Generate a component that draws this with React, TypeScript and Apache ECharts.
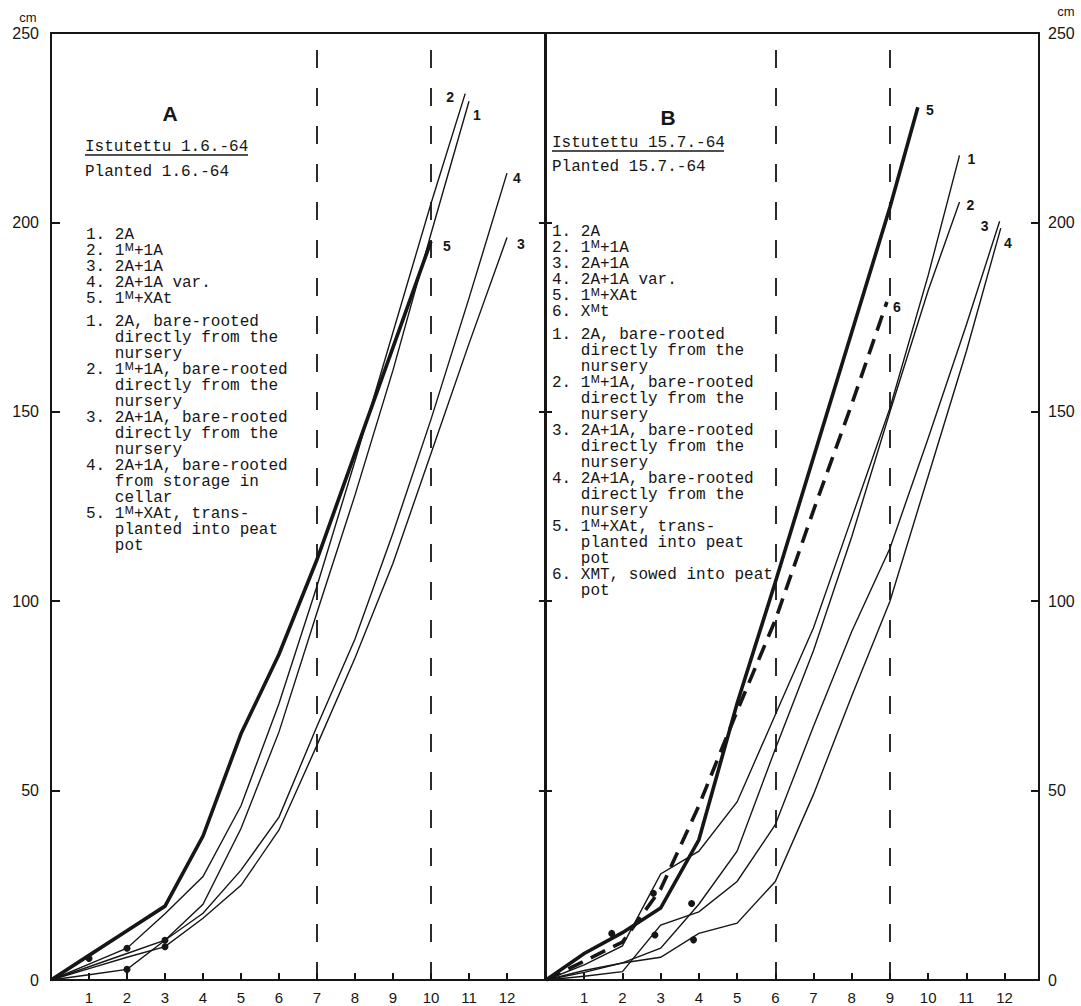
import React, { useEffect, useRef } from "react";
import * as echarts from "echarts";

// ---------- axes ----------
const xTickValues = [1, 2, 3, 4, 5, 6, 7, 8, 9, 10, 11, 12];
const yMin = 0;
const yMax = 250;
const yStep = 50;

// ---------- Panel A (planted 1.6.-64) ----------
const a1X = [0, 1, 2, 3, 4, 5, 6, 7, 8, 9, 10, 11];
const a1Y = [0, 1.4, 2.8, 10.5, 20, 40, 65.5, 97, 128, 161, 197, 232];
const a2X = [0, 1, 2, 3, 4, 5, 6, 7, 8, 9, 10, 10.9];
const a2Y = [0, 4.2, 8.4, 17.5, 27.3, 46, 73, 104, 137, 171, 205, 234];
const a3X = [0, 1, 2, 3, 4, 5, 6, 7, 8, 9, 10, 11, 12];
const a3Y = [0, 3, 6, 8.8, 16.3, 25, 39.6, 62, 85, 110, 139, 168, 196];
const a4X = [0, 1, 2, 3, 4, 5, 6, 7, 8, 9, 10, 11, 12];
const a4Y = [0, 3.5, 7, 10.5, 17.6, 29, 43, 67, 90, 118, 148, 180, 213];
const a5X = [0, 1, 2, 3, 4, 5, 6, 7, 8, 9, 10];
const a5Y = [0, 6.5, 13, 19.5, 38, 65, 86, 111, 139, 167, 195];
const aDotX = [1, 2, 2, 3, 3];
const aDotY = [5.7, 8.4, 2.8, 10.5, 8.8];
const aMarkerX = [7, 10];

// ---------- Panel B (planted 15.7.-64) ----------
const b1X = [0, 1, 2, 3, 4, 5, 6, 7, 8, 9, 10, 10.82];
const b1Y = [0, 4, 9, 28, 34, 47, 70, 93, 122, 151, 186, 217.7];
const b2X = [0, 1, 2, 3, 4, 5, 6, 7, 8, 9, 10, 10.82];
const b2Y = [0, 2, 4.5, 8.4, 20, 34, 61, 87, 117, 150, 182, 205.4];
const b3X = [0, 1, 2, 3, 4, 5, 6, 7, 8, 9, 10, 11, 11.87];
const b3Y = [0, 1, 2.2, 14.5, 18, 26, 41, 67, 92, 114, 143, 173, 200.3];
const b4X = [0, 1, 2, 3, 4, 5, 6, 7, 8, 9, 10, 11, 11.9];
const b4Y = [0, 2.5, 4.5, 6, 12.3, 15, 26, 49, 75, 100, 133, 166, 198.5];
const b5X = [0, 1, 2, 3, 4, 5, 6, 7, 8, 9, 9.73];
const b5Y = [0, 7, 12.5, 19, 37, 73, 105, 138, 171, 204, 230.4];
const b6X = [0, 1, 2, 3, 4, 5, 6, 7, 8, 8.92];
const b6Y = [0, 5, 10, 24, 46, 71, 95, 124, 152, 179];
const bDotX = [1.72, 2.81, 2.85, 3.81, 3.86];
const bDotY = [12.3, 22.9, 11.9, 20.2, 10.6];
const bMarkerX = [6, 9];

// ---------- texts ----------
const shortListA = ["1. 2A", "2. 1ᴹ+1A", "3. 2A+1A", "4. 2A+1A var.", "5. 1ᴹ+XAt"];
const longListA = [
  "1. 2A, bare-rooted",
  "   directly from the",
  "   nursery",
  "2. 1ᴹ+1A, bare-rooted",
  "   directly from the",
  "   nursery",
  "3. 2A+1A, bare-rooted",
  "   directly from the",
  "   nursery",
  "4. 2A+1A, bare-rooted",
  "   from storage in",
  "   cellar",
  "5. 1ᴹ+XAt, trans-",
  "   planted into peat",
  "   pot",
];
const shortListB = ["1. 2A", "2. 1ᴹ+1A", "3. 2A+1A", "4. 2A+1A var.", "5. 1ᴹ+XAt", "6. Xᴹt"];
const longListB = [
  "1. 2A, bare-rooted",
  "   directly from the",
  "   nursery",
  "2. 1ᴹ+1A, bare-rooted",
  "   directly from the",
  "   nursery",
  "3. 2A+1A, bare-rooted",
  "   directly from the",
  "   nursery",
  "4. 2A+1A, bare-rooted",
  "   directly from the",
  "   nursery",
  "5. 1ᴹ+XAt, trans-",
  "   planted into peat",
  "   pot",
  "6. XMT, sowed into peat",
  "   pot",
];

const INK = "#161616";
const SANS = '"Liberation Sans", Arial, sans-serif';
const MONO = '"Liberation Mono", "DejaVu Sans Mono", "DejaVu Sans", monospace';

const zip = (xs: number[], ys: number[]) => xs.map((x, i) => [x, ys[i]]);

function lineSeries(
  name: string,
  xs: number[],
  ys: number[],
  panel: number,
  width: number,
  tag: string,
  offset: number[],
  dashed = false
) {
  const data = zip(xs, ys);
  const last = data[data.length - 1];
  return {
    type: "line",
    name,
    data,
    xAxisIndex: panel === 0 ? 0 : 1,
    yAxisIndex: panel === 0 ? 0 : 3,
    symbol: "none",
    z: width > 2 ? 5 : 4,
    lineStyle: { color: INK, width, type: dashed ? [16, 9] : "solid", cap: "butt", join: "miter" },
    markPoint: {
      symbol: "circle",
      symbolSize: 1,
      silent: true,
      itemStyle: { color: "rgba(0,0,0,0)" },
      data: [
        {
          coord: last,
          label: {
            show: true,
            formatter: tag,
            position: "inside",
            offset,
            color: INK,
            fontSize: 14,
            fontWeight: "bold",
            fontFamily: SANS,
          },
        },
      ],
    },
  };
}

function dotsSeries(xs: number[], ys: number[], panel: number, markers: number[]) {
  return {
    type: "scatter",
    data: zip(xs, ys),
    xAxisIndex: panel === 0 ? 0 : 1,
    yAxisIndex: panel === 0 ? 0 : 3,
    symbol: "circle",
    symbolSize: 7,
    itemStyle: { color: INK, opacity: 1 },
    z: 6,
    markLine: {
      symbol: "none",
      silent: true,
      label: { show: false },
      lineStyle: { color: INK, width: 1.8, type: [18, 20], opacity: 1 },
      data: markers.map((v) => [{ coord: [v, 0] }, { coord: [v, 247.5] }]),
    },
  };
}

function textEl(x: number, y: number, text: string, extra: any = {}) {
  return {
    type: "text",
    x,
    y,
    silent: true,
    style: {
      text,
      fill: INK,
      font: `16px ${MONO}`,
      align: "left",
      verticalAlign: "middle",
      ...extra,
    },
  };
}

function xAxisFor(grid: number, max: number) {
  return {
    type: "value",
    gridIndex: grid,
    min: 0,
    max,
    interval: 1,
    axisLine: { show: false },
    splitLine: { show: false },
    axisTick: { show: true, inside: true, length: 7, customValues: xTickValues, lineStyle: { color: INK, width: 2 } },
    axisLabel: { show: true, customValues: xTickValues, margin: 10, color: INK, fontSize: 15, fontFamily: SANS },
  };
}

function yAxisFor(grid: number, position: string, labels: boolean, tickLen: number, margin = 12) {
  return {
    type: "value",
    gridIndex: grid,
    position,
    min: yMin,
    max: yMax,
    interval: yStep,
    axisLine: { show: false },
    splitLine: { show: false },
    axisTick: { show: true, inside: true, length: tickLen, lineStyle: { color: INK, width: 2 } },
    axisLabel: { show: labels, margin, color: INK, fontSize: 16, fontFamily: SANS },
  };
}

export default function App() {
  const ref = useRef<HTMLDivElement>(null);

  useEffect(() => {
    if (!ref.current) return;
    const chart = echarts.init(ref.current, undefined, { renderer: "svg" });

    const option: any = {
      animation: false,
      backgroundColor: "#ffffff",
      grid: [
        { left: 51, top: 33, width: 494, height: 947, show: true, borderColor: INK, borderWidth: 2, backgroundColor: "transparent" },
        { left: 546, top: 33, width: 493, height: 947, show: true, borderColor: INK, borderWidth: 2, backgroundColor: "transparent" },
      ],
      xAxis: [xAxisFor(0, 13), xAxisFor(1, 12.9)],
      yAxis: [
        yAxisFor(0, "left", true, 9, 12),
        yAxisFor(0, "right", false, 6),
        yAxisFor(1, "left", false, 6),
        yAxisFor(1, "right", true, 8, 9),
      ],
      series: [
        lineSeries("A 1. 2A", a1X, a1Y, 0, 1.4, "1", [8, 14]),
        lineSeries("A 2. 1M+1A", a2X, a2Y, 0, 1.4, "2", [-15, 3]),
        lineSeries("A 3. 2A+1A", a3X, a3Y, 0, 1.4, "3", [14, 6]),
        lineSeries("A 4. 2A+1A var.", a4X, a4Y, 0, 1.4, "4", [10, 5]),
        lineSeries("A 5. 1M+XAt", a5X, a5Y, 0, 3.6, "5", [16, 5]),
        dotsSeries(aDotX, aDotY, 0, aMarkerX),
        lineSeries("B 1. 2A", b1X, b1Y, 1, 1.4, "1", [12, 4]),
        lineSeries("B 2. 1M+1A", b2X, b2Y, 1, 1.4, "2", [11, 3]),
        lineSeries("B 3. 2A+1A", b3X, b3Y, 1, 1.4, "3", [-15, 5]),
        lineSeries("B 4. 2A+1A var.", b4X, b4Y, 1, 1.4, "4", [7, 15]),
        lineSeries("B 5. 1M+XAt", b5X, b5Y, 1, 3.6, "5", [12, 3]),
        lineSeries("B 6. XMt", b6X, b6Y, 1, 3.6, "6", [10, 5], true),
        dotsSeries(bDotX, bDotY, 1, bMarkerX),
      ],
      graphic: [
        { type: "text", x: 28, y: 17, silent: true, style: { text: "cm", fill: INK, font: `13px ${SANS}`, align: "center", verticalAlign: "middle" } },
        { type: "text", x: 1066, y: 11, silent: true, style: { text: "cm", fill: INK, font: `13px ${SANS}`, align: "center", verticalAlign: "middle" } },
        { type: "text", x: 170, y: 113, silent: true, style: { text: "A", fill: INK, font: `bold 21px ${SANS}`, align: "center", verticalAlign: "middle" } },
        { type: "text", x: 668, y: 117, silent: true, style: { text: "B", fill: INK, font: `bold 21px ${SANS}`, align: "center", verticalAlign: "middle" } },
        textEl(85, 147, "Istutettu 1.6.-64"),
        { type: "line", silent: true, shape: { x1: 85, y1: 155, x2: 248, y2: 155 }, style: { stroke: INK, lineWidth: 1.5 } },
        textEl(85, 172, "Planted 1.6.-64"),
        textEl(86, 227, shortListA.join("\n"), { verticalAlign: "top", lineHeight: 16 }),
        textEl(86, 314, longListA.join("\n"), { verticalAlign: "top", lineHeight: 16 }),
        textEl(552, 143, "Istutettu 15.7.-64"),
        { type: "line", silent: true, shape: { x1: 552, y1: 151, x2: 724, y2: 151 }, style: { stroke: INK, lineWidth: 1.5 } },
        textEl(552, 167, "Planted 15.7.-64"),
        textEl(552, 224, shortListB.join("\n"), { verticalAlign: "top", lineHeight: 16 }),
        textEl(552, 327, longListB.join("\n"), { verticalAlign: "top", lineHeight: 16 }),
      ],
    };

    chart.setOption(option);
    return () => chart.dispose();
  }, []);

  return <div ref={ref} style={{ position: "fixed", left: 0, top: 0, width: 1081, height: 1006 }} />;
}
